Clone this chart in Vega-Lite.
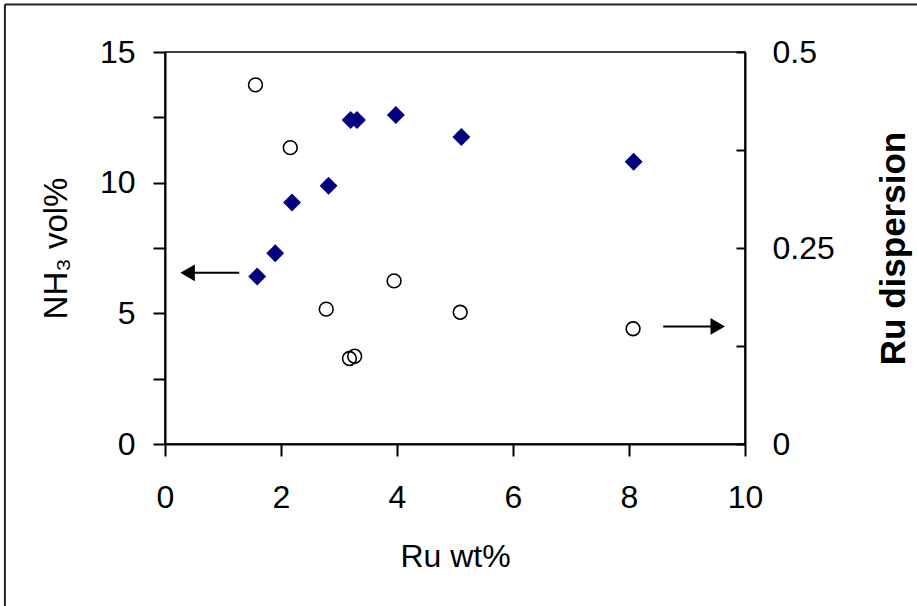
{
  "$schema": "https://vega.github.io/schema/vega-lite/v6.json",
  "width": 580,
  "height": 392,
  "autosize": "none",
  "padding": {"left": 165, "top": 52, "right": 172, "bottom": 162},
  "background": "white",
  "config": {
    "view": {"stroke": "black", "strokeWidth": 1.5},
    "font": "Liberation Sans",
    "axis": {
      "grid": false,
      "domainColor": "black",
      "domainWidth": 2,
      "tickColor": "black",
      "tickWidth": 2,
      "labelColor": "black",
      "titleColor": "black",
      "labelFont": "Liberation Sans",
      "titleFont": "Liberation Sans",
      "labelFontSize": 32,
      "titleFontSize": 32,
      "titleFontWeight": "normal",
      "labelFlush": false,
      "labelOverlap": false
    }
  },
  "datasets": {
    "nh3": [
      {"ru": 1.59, "nh3": 6.41},
      {"ru": 1.90, "nh3": 7.30},
      {"ru": 2.19, "nh3": 9.24},
      {"ru": 2.82, "nh3": 9.88},
      {"ru": 3.20, "nh3": 12.40},
      {"ru": 3.31, "nh3": 12.40},
      {"ru": 3.98, "nh3": 12.59},
      {"ru": 5.11, "nh3": 11.75},
      {"ru": 8.08, "nh3": 10.80}
    ],
    "disp": [
      {"ru": 1.56, "disp": 0.458},
      {"ru": 2.16, "disp": 0.378},
      {"ru": 2.78, "disp": 0.172},
      {"ru": 3.18, "disp": 0.109},
      {"ru": 3.27, "disp": 0.112},
      {"ru": 3.95, "disp": 0.208},
      {"ru": 5.09, "disp": 0.168},
      {"ru": 8.07, "disp": 0.147}
    ],
    "arrows": [
      {"xa": 0.39, "xb": 1.28, "yv": 6.55, "dir": "left", "head": 0.39},
      {"xa": 8.59, "xb": 9.53, "yv": 4.50, "dir": "right", "head": 9.53}
    ],
    "frame": [
      {"fx": -2.76, "fx2": -2.76, "fy": -7, "fy2": 16.82},
      {"fx": -2.76, "fx2": 13.5, "fy": 16.82, "fy2": 16.82}
    ]
  },
  "layer": [
    {
      "layer": [
        {
          "data": {"name": "nh3"},
          "mark": {"type": "point", "shape": "diamond", "filled": true, "color": "#000080", "size": 320, "opacity": 1},
          "encoding": {
            "x": {
              "field": "ru", "type": "quantitative",
              "scale": {"domain": [0, 10], "nice": false, "zero": false},
              "axis": {"values": [0, 2, 4, 6, 8, 10], "tickSize": 12, "labelPadding": 26, "title": "Ru wt%", "titlePadding": 28, "format": "d"}
            },
            "y": {
              "field": "nh3", "type": "quantitative",
              "scale": {"domain": [0, 15], "nice": false, "zero": false},
              "axis": {
                "orient": "left",
                "values": [0, 2.5, 5, 7.5, 10, 12.5, 15],
                "labelExpr": "datum.value % 5 === 0 ? format(datum.value, 'd') : ''",
                "tickSize": 12,
                "labelPadding": 18,
                "title": "NH₃ vol%",
                "titleFontSize": 33,
                "titlePadding": 26
              }
            }
          }
        },
        {
          "data": {"name": "arrows"},
          "mark": {"type": "rule", "color": "black", "strokeWidth": 2},
          "encoding": {
            "x": {"field": "xa", "type": "quantitative", "title": "Ru wt%"},
            "x2": {"field": "xb"},
            "y": {"field": "yv", "type": "quantitative", "title": "NH₃ vol%"}
          }
        },
        {
          "data": {"name": "arrows"},
          "mark": {"type": "point", "filled": true, "color": "black", "size": 280, "opacity": 1},
          "encoding": {
            "x": {"field": "head", "type": "quantitative", "title": "Ru wt%"},
            "y": {"field": "yv", "type": "quantitative", "title": "NH₃ vol%"},
            "shape": {"field": "dir", "type": "nominal", "scale": {"domain": ["left", "right"], "range": ["triangle-left", "triangle-right"]}, "legend": null}
          }
        },
        {
          "data": {"name": "frame"},
          "mark": {"type": "rule", "color": "#222222", "strokeWidth": 2},
          "encoding": {
            "x": {"field": "fx", "type": "quantitative", "title": "Ru wt%"},
            "x2": {"field": "fx2"},
            "y": {"field": "fy", "type": "quantitative", "title": "NH₃ vol%"},
            "y2": {"field": "fy2"}
          }
        }
      ]
    },
    {
      "data": {"name": "disp"},
      "mark": {"type": "point", "shape": "circle", "filled": false, "color": "black", "strokeWidth": 1.6, "size": 190, "opacity": 1},
      "encoding": {
        "x": {"field": "ru", "type": "quantitative", "title": "Ru wt%"},
        "y": {
          "field": "disp", "type": "quantitative",
          "scale": {"domain": [0, 0.5], "nice": false, "zero": false},
          "axis": {
            "orient": "right",
            "values": [0, 0.125, 0.25, 0.375, 0.5],
            "labelExpr": "datum.value === 0 ? '0' : datum.value === 0.25 ? '0.25' : datum.value === 0.5 ? '0.5' : ''",
            "tickSize": -9,
            "labelPadding": 36,
            "title": "Ru dispersion",
            "titleFontWeight": "bold",
            "titleFontSize": 35,
            "titleAngle": 270,
            "titleBaseline": "top",
            "titlePadding": 42
          }
        }
      }
    }
  ],
  "resolve": {"scale": {"y": "independent"}}
}
